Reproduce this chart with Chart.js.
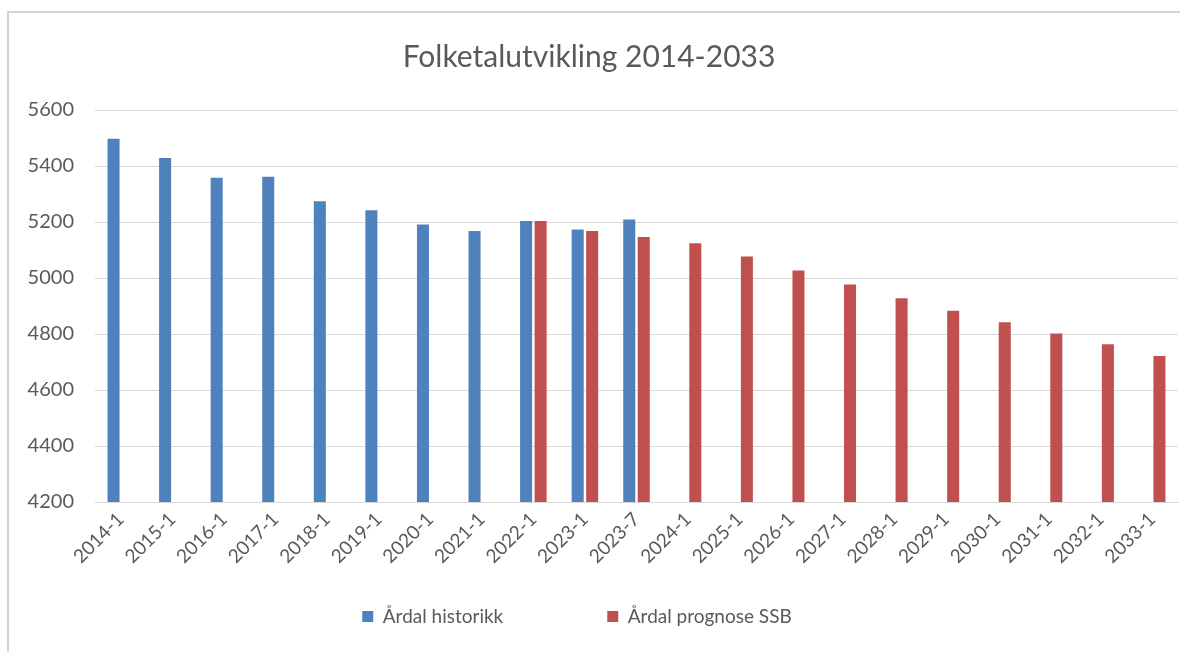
<!DOCTYPE html>
<html>
<head>
<meta charset="utf-8">
<script src="https://cdn.jsdelivr.net/npm/chart.js@4.4.0/dist/chart.umd.min.js"></script>
<style>
  html, body { margin: 0; padding: 0; background: #ffffff; }
  #wrap { position: relative; width: 1195px; height: 652px; }
</style>
</head>
<body>
<div id="wrap"><canvas id="c" width="1195" height="652"></canvas></div>
<script>
const categories = ['2014-1','2015-1','2016-1','2017-1','2018-1','2019-1','2020-1','2021-1','2022-1','2023-1','2023-7','2024-1','2025-1','2026-1','2027-1','2028-1','2029-1','2030-1','2031-1','2032-1','2033-1'];
const historikk = [5497, 5429, 5358, 5362, 5274, 5242, 5191, 5168, 5204, 5173, 5209, null, null, null, null, null, null, null, null, null, null];
const prognose = [null, null, null, null, null, null, null, null, 5204, 5168, 5146, 5124, 5077, 5027, 4977, 4928, 4883, 4842, 4802, 4763, 4721];
const seriesNames = ['Årdal historikk', 'Årdal prognose SSB'];
const titleText = 'Folketalutvikling 2014-2033';

const FONT = 'Lato, "Open Sans", sans-serif';
const TXT = '#595959';
const LEGEND_PAD = 104;

const framePlugin = {
  id: 'frame',
  beforeDraw(chart) {
    const ctx = chart.ctx;
    ctx.save();
    ctx.strokeStyle = '#d4d4d4';
    ctx.lineWidth = 2;
    ctx.beginPath();
    ctx.moveTo(1180, 12);
    ctx.lineTo(8, 12);
    ctx.lineTo(8, 652);
    ctx.stroke();
    ctx.restore();
  },
  afterLayout(chart) {
    const lg = chart.legend;
    if (lg) {
      lg.left -= 12;
      lg.right -= 12;
      lg.top -= (LEGEND_PAD - 10);
    }
  }
};

new Chart(document.getElementById('c'), {
  type: 'bar',
  data: {
    labels: categories,
    datasets: [
      { label: seriesNames[0], data: historikk, backgroundColor: '#4F81BD', categoryPercentage: 0.562, barPercentage: 0.83 },
      { label: seriesNames[1], data: prognose, backgroundColor: '#C0504D', categoryPercentage: 0.562, barPercentage: 0.83 }
    ]
  },
  options: {
    responsive: false,
    animation: false,
    layout: { padding: { left: 0, right: 17, top: 0, bottom: 17 } },
    plugins: {
      title: {
        display: true,
        text: titleText,
        color: TXT,
        font: { family: FONT, size: 30, weight: 'normal' },
        padding: { top: 39, bottom: 35 }
      },
      legend: {
        display: true,
        position: 'bottom',
        maxHeight: 38,
        labels: {
          color: TXT,
          font: { family: FONT, size: 19 },
          boxWidth: 11,
          boxHeight: 11,
          padding: LEGEND_PAD
        }
      },
      tooltip: { enabled: false }
    },
    scales: {
      x: {
        grid: { display: false, drawTicks: false },
        border: { display: true, color: '#d9d9d9', width: 1 },
        ticks: {
          color: TXT,
          font: { family: FONT, size: 19 },
          maxRotation: 45,
          minRotation: 45,
          autoSkip: false,
          padding: 6
        },
        afterFit(scale) { scale.height = 95; }
      },
      y: {
        min: 4200,
        max: 5600,
        grid: { color: '#d9d9d9', lineWidth: 1, drawTicks: false },
        border: { display: false },
        ticks: {
          stepSize: 200,
          color: TXT,
          font: { family: FONT, size: 20 },
          padding: 21,
          callback: (v) => String(v)
        },
        afterFit(scale) { scale.width = 95; }
      }
    }
  },
  plugins: [framePlugin]
});
</script>
</body>
</html>
